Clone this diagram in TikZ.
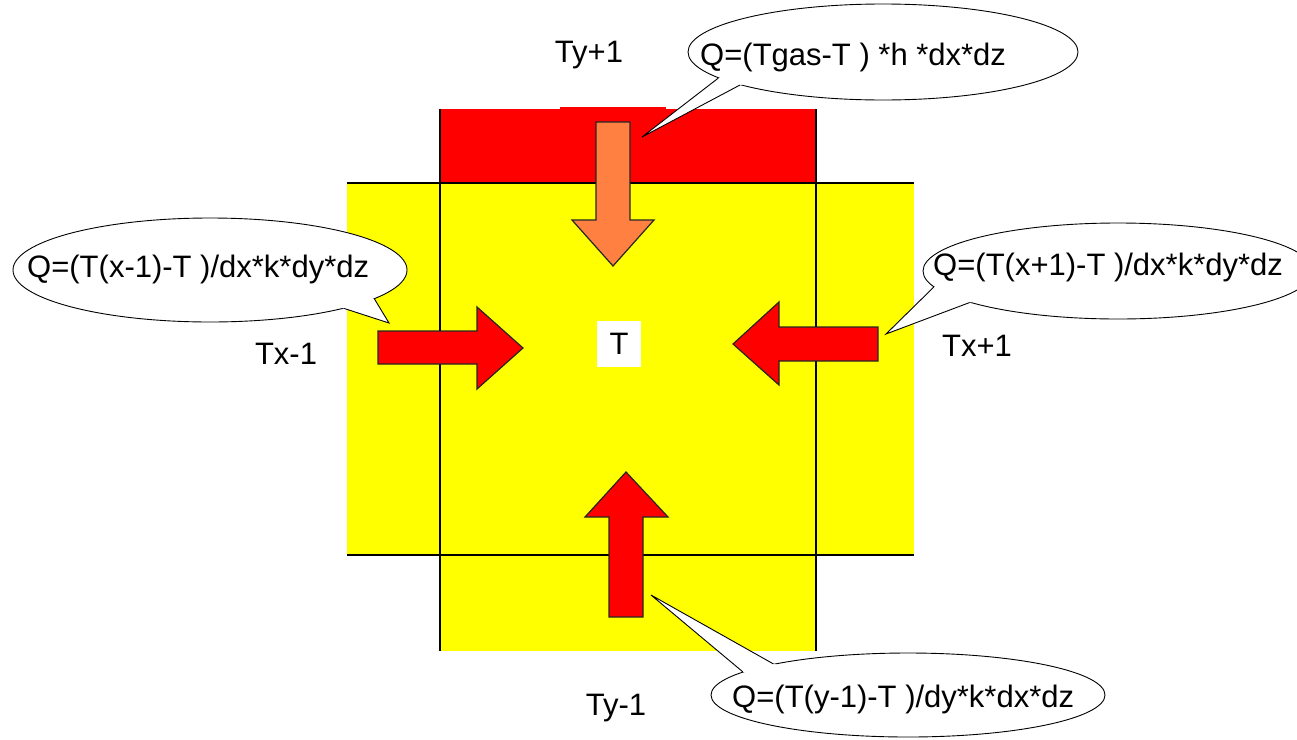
\documentclass[tikz,border=0pt]{standalone}
\usepackage{fontspec}
\setmainfont{Liberation Sans}
\usetikzlibrary{shapes.geometric,calc}
\definecolor{myyellow}{RGB}{255,255,0}
\definecolor{myred}{RGB}{255,0,0}
\definecolor{myorange}{RGB}{255,128,64}
\begin{document}
\begin{tikzpicture}[x=1pt,y=-1pt,
  lbl/.style={font=\fontsize{31}{37}\selectfont, inner sep=0pt, anchor=base},
  qtxt/.style={font=\fontsize{31}{37}\selectfont, inner sep=0pt, anchor=base west},
  bubble/.style={ellipse, draw=black, fill=white, line width=0.9pt, inner sep=0pt},
  tail/.style={draw=black, line width=0.9pt, line join=miter},
  gridline/.style={line width=1.2pt, black},
  blockarrow/.style={draw=black!85, line width=1.2pt, line join=miter}
]
\useasboundingbox (0,0) rectangle (1297,739);
\clip (0,0) rectangle (1297,739);
\fill[white] (0,0) rectangle (1297,739);
% cells
\fill[myyellow] (347,183) rectangle (914,555);
\fill[myyellow] (440,183) rectangle (816,651);
\fill[myred] (440,109) rectangle (816,183);
\fill[myred] (560,107) rectangle (666,110);
% grid lines
\draw[gridline] (347,183) -- (914,183);
\draw[gridline] (347,555) -- (914,555);
\draw[gridline] (440,109) -- (440,651);
\draw[gridline] (816,109) -- (816,651);
% arrows
\draw[blockarrow, fill=myorange] (596,122) -- (630,122) -- (630,220) -- (654,220) -- (613,266) -- (572,220) -- (596,220) -- cycle;
\draw[blockarrow, fill=myred] (378,331) -- (477,331) -- (477,307) -- (523,348) -- (477,389) -- (477,364) -- (378,364) -- cycle;
\draw[blockarrow, fill=myred] (878,327) -- (779,327) -- (779,302) -- (733,344) -- (779,385) -- (779,361) -- (878,361) -- cycle;
\draw[blockarrow, fill=myred] (609,617) -- (609,517) -- (585,517) -- (626,472) -- (668,517) -- (643,517) -- (643,617) -- cycle;
% centre cell
\node[fill=white, minimum width=44pt, minimum height=46pt, inner sep=0pt, font=\fontsize{31}{37}\selectfont] (T) at (619,344) {T};
% pointer targets
\coordinate (pTop) at (642,137);
\coordinate (pLeft) at (389,323);
\coordinate (pRight) at (886,334);
\coordinate (pBottom) at (651,595);
% callout ellipses
\node[bubble, minimum width=390pt, minimum height=96pt] (cTop) at (883,52) {};
\node[bubble, minimum width=394pt, minimum height=104pt] (cLeft) at (210,270) {};
\node[bubble, minimum width=390pt, minimum height=96pt] (cRight) at (1118,271) {};
\node[bubble, minimum width=394pt, minimum height=84pt] (cBottom) at (908,695) {};
% callout tails
\fill[white] ($(cTop.center)!0.85!(cTop.189.2)$) -- (cTop.189.2) -- (pTop) -- (cTop.193.7) -- ($(cTop.center)!0.85!(cTop.193.7)$) -- cycle;
\draw[tail] (cTop.189.2) -- (pTop) -- (cTop.193.7);
\fill[white] ($(cLeft.center)!0.85!(cLeft.350)$) -- (cLeft.350) -- (pLeft) -- (cLeft.344.5) -- ($(cLeft.center)!0.85!(cLeft.344.5)$) -- cycle;
\draw[tail] (cLeft.350) -- (pLeft) -- (cLeft.344.5);
\fill[white] ($(cRight.center)!0.85!(cRight.185.3)$) -- (cRight.185.3) -- (pRight) -- (cRight.192.4) -- ($(cRight.center)!0.85!(cRight.192.4)$) -- cycle;
\draw[tail] (cRight.185.3) -- (pRight) -- (cRight.192.4);
\fill[white] ($(cBottom.center)!0.85!(cBottom.172.4)$) -- (cBottom.172.4) -- (pBottom) -- (cBottom.167.6) -- ($(cBottom.center)!0.85!(cBottom.167.6)$) -- cycle;
\draw[tail] (cBottom.172.4) -- (pBottom) -- (cBottom.167.6);
% callout texts
\node[qtxt] (qTop) at (700,65) {Q=(Tgas-T ) *h *dx*dz};
\node[qtxt] (qLeft) at (27,277) {Q=(T(x-1)-T )/dx*k*dy*dz};
\node[qtxt] (qRight) at (933,275) {Q=(T(x+1)-T )/dx*k*dy*dz};
\node[qtxt] (qBottom) at (732,707) {Q=(T(y-1)-T )/dy*k*dx*dz};
% neighbour labels
\node[lbl] (ty1) at (589,62) {Ty+1};
\node[lbl] (tx0) at (286,364) {Tx-1};
\node[lbl] (tx1) at (977,356) {Tx+1};
\node[lbl] (ty0) at (616,715) {Ty-1};
\end{tikzpicture}
\end{document}
